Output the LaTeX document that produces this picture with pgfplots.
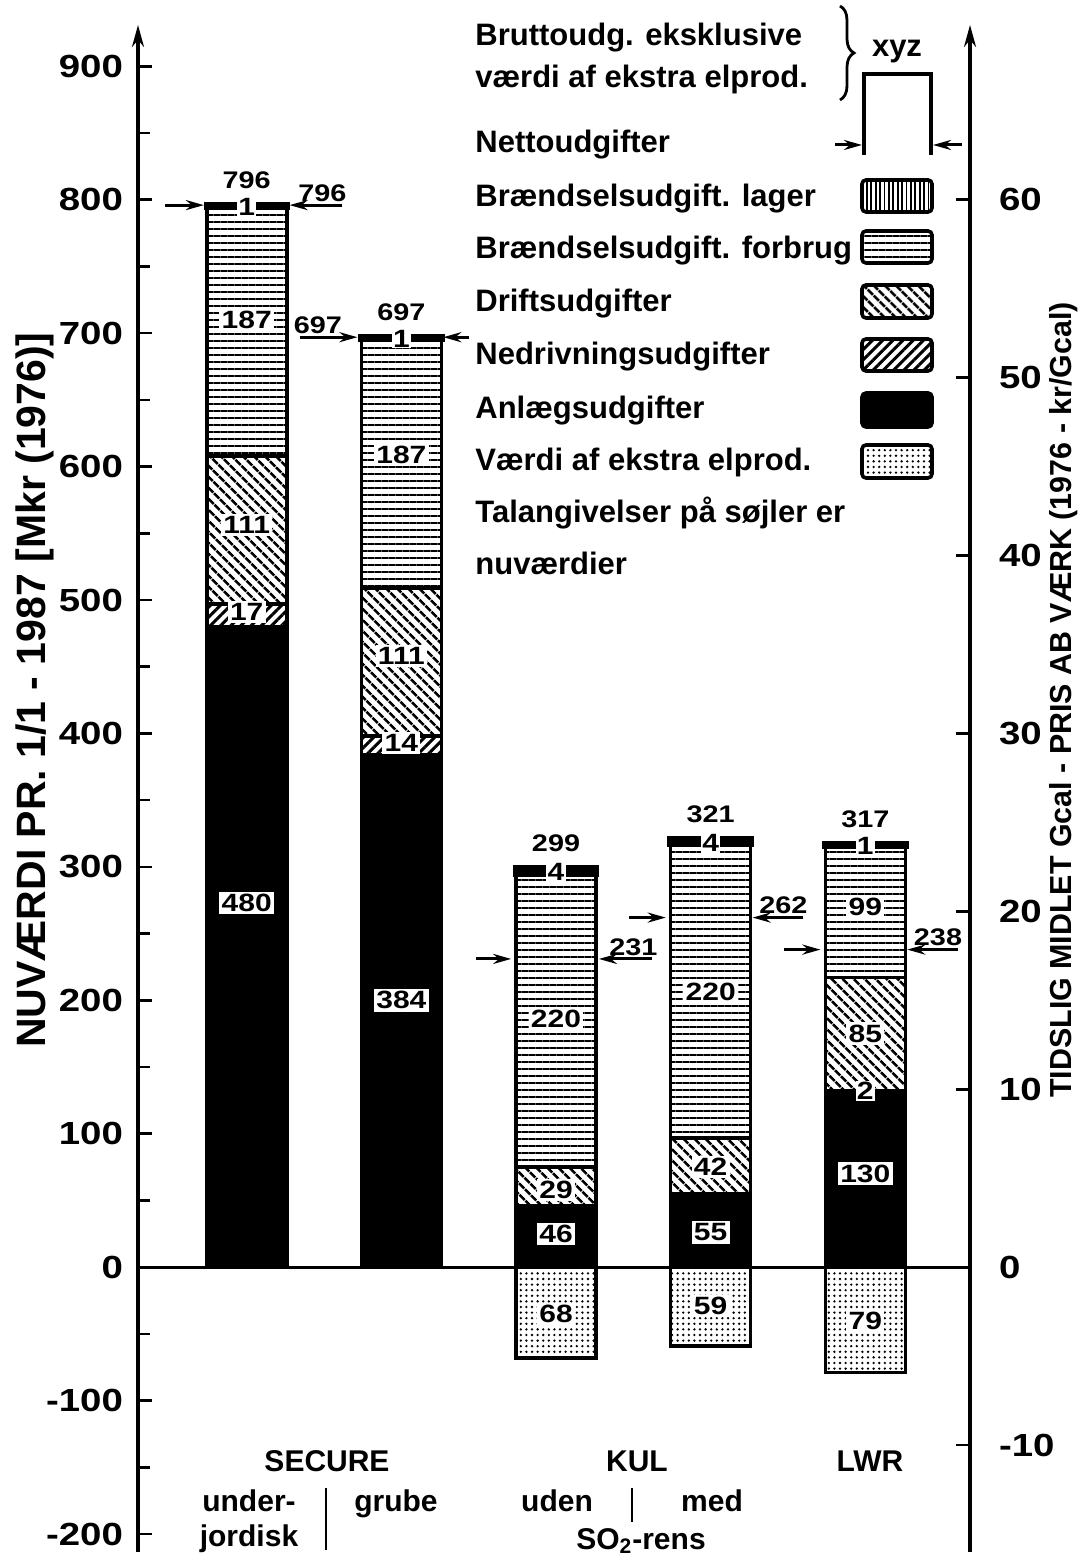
\documentclass[border=0pt]{standalone}
\usepackage{fontspec}
\setmainfont{Liberation Sans}
\newfontfamily\widefont[FakeStretch=1.2]{Liberation Sans}
\usepackage{pgfplots}
\usepackage{pgfplotstable}
\pgfplotsset{compat=1.18}
\usetikzlibrary{patterns.meta,arrows.meta,decorations.pathreplacing}

% present values (Mkr 1976)
\pgfplotstableread{
x anl ned dri for lag
1 480 17 111 187 1
2 384 14 111 187 1
3 46 0 29 220 4
4 55 0 42 220 4
5 130 2 85 99 1
}\costs
\pgfplotstableread{
x vae
3 -68
4 -59
5 -79
}\credit
% net-cost arrows: start x, level, length
\pgfplotstableread{
x y u
0.471 796 0.252
1.619 796 -0.342
1.342 697 0.374
2.439 697 -0.168
2.484 231 0.226
3.619 231 -0.342
3.471 262 0.239
4.600 262 -0.329
4.471 238 0.239
5.600 238 -0.329
}\netarrows

\tikzset{
 pLag/.style={pattern={Lines[angle=90,distance=2.2pt,line width=0.9pt]}},
 pFor/.style={pattern={Lines[angle=0,distance=3.5pt,line width=1.4pt]}},
 pDri/.style={pattern={Lines[angle=-45,distance=4pt,line width=1.4pt]}},
 pNed/.style={pattern={Lines[angle=45,distance=3.6pt,line width=1.5pt]}},
 pAnl/.style={fill=black},
 pVae/.style={pattern={Dots[distance=2.8pt,radius=0.65pt]}},
 lbl/.style={fill=white, inner sep=1.2pt, font=\widefont\bfseries\fontsize{12.5}{12.5}\selectfont},
 sm/.style={font=\widefont\bfseries\fontsize{12}{12}\selectfont},
 txt/.style={font=\bfseries\fontsize{15.5}{16}\selectfont},
 cat/.style={font=\bfseries\fontsize{15}{16}\selectfont},
 arr/.style={line width=1.5pt,-{Stealth[length=9pt,width=5pt]}},
}

\pgfplotsset{
 common/.style={scale only axis, width=416pt, height=763.5pt,
   at={(69pt,3.5pt)}, anchor=south west, xmin=0.297, xmax=5.677, clip=false},
}

\begin{document}
\begin{tikzpicture}
\path[use as bounding box] (0,0) rectangle (541.5pt,779.5pt);

% ---- left scale, credits (negative), zero line, arrows
\begin{axis}[common, ymin=-213.5, ymax=931,
  axis x line=none, axis y line*=left,
  y axis line style={line width=1.6pt,-{Stealth[length=11pt,width=6pt]}},
  ytick={-200,-100,...,900}, minor ytick={-150,-50,...,850},
  tick align=inside, major tick length=7pt, minor tick length=6pt,
  tick style={line width=1.3pt,black},
  yticklabel style={font=\widefont\bfseries\fontsize{16}{16}\selectfont, xshift=-4pt},
  /pgf/number format/assume math mode=true]
\draw[line width=1.4pt] (axis cs:0.297,0) -- (axis cs:5.677,0);
\addplot[ybar, bar width=40pt, bar shift=0pt, pVae, draw=black, line width=1.8pt]
  table[x=x,y=vae]{\credit};
\addplot[quiver={u=\thisrow{u},v=0}, arr, black] table[x=x,y=y]{\netarrows};
\end{axis}

% ---- stacked cost bars
\begin{axis}[common, ymin=-213.5, ymax=931, axis lines=none,
  ybar stacked, bar width=40pt]
\addplot[pAnl, draw=black, line width=1.8pt] table[x=x,y=anl]{\costs};
\addplot[pNed, draw=black, line width=1.8pt] table[x=x,y=ned]{\costs};
\addplot[pDri, draw=black, line width=1.8pt] table[x=x,y=dri]{\costs};
\addplot[pFor, draw=black, line width=1.8pt] table[x=x,y=for]{\costs};
\addplot[pLag, draw=black, line width=3.2pt] table[x=x,y=lag]{\costs};
\end{axis}

% ---- text on the bars (left scale)
\begin{axis}[common, ymin=-213.5, ymax=931, axis lines=none]
\node[lbl] at (axis cs:1,273) {480};
\node[lbl] at (axis cs:1,491) {17};
\node[lbl] at (axis cs:1,556) {111};
\node[lbl] at (axis cs:1,710) {187};
\node[lbl,inner sep=0.6pt] at (axis cs:1,795) {1};
\node[lbl] at (axis cs:2,200) {384};
\node[lbl] at (axis cs:2,393) {14};
\node[lbl] at (axis cs:2,458) {111};
\node[lbl] at (axis cs:2,609) {187};
\node[lbl,inner sep=0.6pt] at (axis cs:2,696) {1};
\node[lbl] at (axis cs:3,25) {46};
\node[lbl] at (axis cs:3,58) {29};
\node[lbl] at (axis cs:3,186) {220};
\node[lbl,inner sep=0.6pt] at (axis cs:3,296) {4};
\node[lbl] at (axis cs:3,-35) {68};
\node[lbl] at (axis cs:4,26) {55};
\node[lbl] at (axis cs:4,75) {42};
\node[lbl] at (axis cs:4,206) {220};
\node[lbl,inner sep=0.6pt] at (axis cs:4,318) {4};
\node[lbl] at (axis cs:4,-29) {59};
\node[lbl] at (axis cs:5,70) {130};
\node[lbl,inner sep=0.6pt] at (axis cs:5,132) {2};
\node[lbl] at (axis cs:5,175) {85};
\node[lbl] at (axis cs:5,270) {99};
\node[lbl,inner sep=0.6pt] at (axis cs:5,316) {1};
\node[lbl] at (axis cs:5,-40) {79};
% totals
\node[sm,anchor=south] at (axis cs:1,803) {796};
\node[sm,anchor=south] at (axis cs:2,704) {697};
\node[sm,anchor=south] at (axis cs:3,306) {299};
\node[sm,anchor=south] at (axis cs:4,328) {321};
\node[sm,anchor=south] at (axis cs:5,324) {317};
% net values on the arrows
\node[sm,anchor=south,inner sep=1.5pt] at (axis cs:1.49,796) {796};
\node[sm,anchor=south,inner sep=1.5pt] at (axis cs:1.46,697) {697};
\node[sm,anchor=south,inner sep=1.5pt] at (axis cs:3.50,231) {231};
\node[sm,anchor=south,inner sep=1.5pt] at (axis cs:4.47,262) {262};
\node[sm,anchor=south,inner sep=1.5pt] at (axis cs:5.47,238) {238};
\end{axis}

% ---- right scale (1976-kr/Gcal)
\begin{axis}[common, ymin=-16.0125, ymax=69.825,
  axis x line=none, axis y line*=right,
  y axis line style={line width=1.6pt,-{Stealth[length=11pt,width=6pt]}},
  ytick={-10,0,...,60},
  tick align=inside, major tick length=7pt,
  tick style={line width=1.3pt,black},
  yticklabel style={font=\widefont\bfseries\fontsize{16}{16}\selectfont, xshift=11pt},
  /pgf/number format/assume math mode=true]
\end{axis}

% ---- legend, category labels, axis titles (pixel frame)
\begin{scope}[x=0.5pt,y=-0.5pt,shift={(0pt,779.5pt)}]
\node[txt,anchor=base west,inner sep=0pt] at (475,46) {Bruttoudg. eksklusive};
\node[txt,anchor=base west,inner sep=0pt] at (475,88) {værdi af ekstra elprod.};
\draw[line width=1.4pt, decorate, decoration={brace,amplitude=7pt}] (840,6) -- (840,100);
\node[txt] at (897,52) {xyz};
\draw[line width=1.6pt] (864,155) -- (864,74) -- (931,74) -- (931,155);
\draw[arr] (835,145) -- (862,145);
\draw[arr] (962,145) -- (933,145);
\node[txt,anchor=base west,inner sep=0pt] at (475,153) {Nettoudgifter};
\node[txt,anchor=base west,inner sep=0pt] at (475,207) {Brændselsudgift. lager};
\draw[pLag, line width=1.8pt, rounded corners=2pt] (862,180) rectangle (932,212);
\node[txt,anchor=base west,inner sep=0pt] at (475,259) {Brændselsudgift. forbrug};
\draw[pFor, line width=1.8pt, rounded corners=2pt] (862,231) rectangle (932,263);
\node[txt,anchor=base west,inner sep=0pt] at (475,312) {Driftsudgifter};
\draw[pDri, line width=1.8pt, rounded corners=2pt] (862,285) rectangle (932,318);
\node[txt,anchor=base west,inner sep=0pt] at (475,365) {Nedrivningsudgifter};
\draw[pNed, line width=1.8pt, rounded corners=2pt] (862,339) rectangle (932,371);
\node[txt,anchor=base west,inner sep=0pt] at (475,419) {Anlægsudgifter};
\draw[fill=black, line width=1.8pt, rounded corners=2pt] (862,393) rectangle (932,427);
\node[txt,anchor=base west,inner sep=0pt] at (475,471) {Værdi af ekstra elprod.};
\draw[pVae, line width=1.8pt, rounded corners=2pt] (862,445) rectangle (932,478);
\node[txt,anchor=base west,inner sep=0pt] at (475,523) {Talangivelser på søjler er};
\node[txt,anchor=base west,inner sep=0pt] at (475,575) {nuværdier};
% categories
\node[cat,anchor=base] at (327,1472) {SECURE};
\node[cat,anchor=base] at (249,1512) {under-};
\node[cat,anchor=base] at (396,1512) {grube};
\node[cat,anchor=base] at (249,1547) {jordisk};
\draw[line width=1.4pt] (326,1488) -- (326,1550);
\node[cat,anchor=base] at (637,1472) {KUL};
\node[cat,anchor=base] at (557,1512) {uden};
\node[cat,anchor=base] at (712,1512) {med};
\draw[line width=1.4pt] (632,1488) -- (632,1522);
\node[cat,anchor=base] at (641,1549) {SO\textsubscript{2}-rens};
\node[cat,anchor=base] at (870,1472) {LWR};
% axis titles
\node[font=\bfseries\fontsize{20.5}{21}\selectfont,rotate=90] at (35,690) {NUVÆRDI PR. 1/1 - 1987 [Mkr (1976)]};
\node[font=\bfseries\fontsize{15.2}{16}\selectfont,rotate=90] at (1064,700) {TIDSLIG MIDLET Gcal - PRIS AB VÆRK (1976 - kr/Gcal)};
\end{scope}
\end{tikzpicture}
\end{document}
